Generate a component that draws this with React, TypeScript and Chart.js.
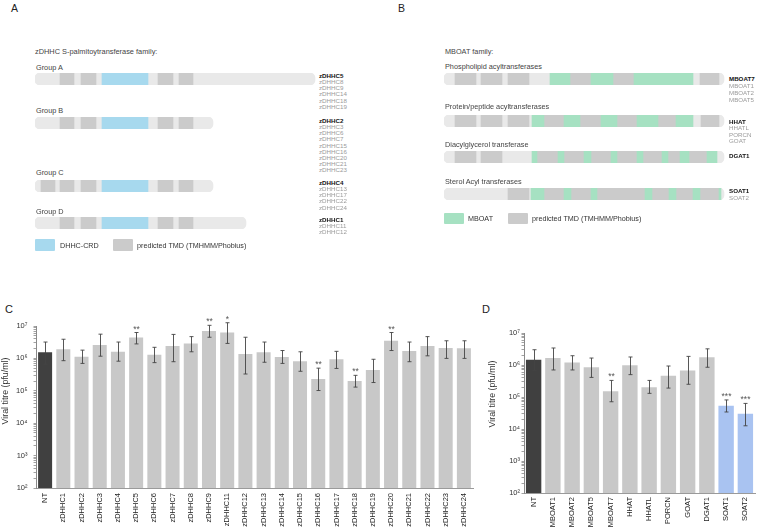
import React, { useEffect, useRef } from 'react';
import { Chart, registerables } from 'chart.js';

Chart.register(...registerables);

const FONT = '"Liberation Sans", Arial, Helvetica, sans-serif';
Chart.defaults.font.family = FONT;

// ---------- Panel C data ----------
const zdhhcCategories = ['NT', 'zDHHC1', 'zDHHC2', 'zDHHC3', 'zDHHC4', 'zDHHC5', 'zDHHC6', 'zDHHC7', 'zDHHC8', 'zDHHC9', 'zDHHC11', 'zDHHC12', 'zDHHC13', 'zDHHC14', 'zDHHC15', 'zDHHC16', 'zDHHC17', 'zDHHC18', 'zDHHC19', 'zDHHC20', 'zDHHC21', 'zDHHC22', 'zDHHC23', 'zDHHC24'];
const zdhhcTitre = [1.55e6, 1.9e6, 1.12e6, 2.6e6, 1.6e6, 4.4e6, 1.3e6, 2.4e6, 2.9e6, 7.0e6, 6.3e6, 1.37e6, 1.55e6, 1.1e6, 8.2e5, 2.3e5, 9.4e5, 2.0e5, 4.4e5, 3.5e6, 1.7e6, 2.4e6, 2.1e6, 2.05e6];
const zdhhcErrHigh = [3.2e6, 3.9e6, 1.8e6, 5.6e6, 3.2e6, 6.3e6, 2.2e6, 5.5e6, 4.7e6, 1.05e7, 1.26e7, 4.5e6, 3.2e6, 1.75e6, 1.6e6, 5.0e5, 1.65e6, 3.0e5, 9.4e5, 6.3e6, 3.2e6, 4.7e6, 3.5e6, 3.5e6];
const zdhhcErrLow = [6.6e5, 8.5e5, 7.0e5, 1.17e6, 8.2e5, 2.8e6, 7.4e5, 7.9e5, 1.6e6, 4.5e6, 2.9e6, 3.3e5, 7.6e5, 7.0e5, 4.0e5, 1.02e5, 4.9e5, 1.3e5, 1.8e5, 1.75e6, 7.9e5, 1.2e6, 1.0e6, 1.0e6];
const zdhhcSignif = ['', '', '', '', '', '**', '', '', '', '**', '*', '', '', '', '', '**', '', '**', '', '**', '', '', '', ''];

// ---------- Panel D data ----------
const mboatCategories = ['NT', 'MBOAT1', 'MBOAT2', 'MBOAT5', 'MBOAT7', 'HHAT', 'HHATL', 'PORCN', 'GOAT', 'DGAT1', 'SOAT1', 'SOAT2'];
const mboatTitre = [1.47e6, 1.65e6, 1.2e6, 8.5e5, 1.5e5, 9.8e5, 2.0e5, 4.6e5, 6.7e5, 1.74e6, 5.3e4, 3.0e4];
const mboatErrHigh = [3.0e6, 3.4e6, 1.95e6, 1.65e6, 3.3e5, 1.78e6, 3.3e5, 9.3e5, 1.86e6, 3.2e6, 8.1e4, 6.3e4];
const mboatErrLow = [6.6e5, 7.0e5, 7.0e5, 4.1e5, 7.1e4, 5.0e5, 1.3e5, 1.9e5, 2.5e5, 8.5e5, 3.4e4, 1.26e4];
const mboatSignif = ['', '', '', '', '**', '', '', '', '', '', '***', '***'];

const decadeExponents = [2, 3, 4, 5, 6, 7];
const yAxisTitle = 'Viral titre (pfu/ml)';

// ---------- Panel A data (domain positions, arbitrary residue units) ----------
const zdhhcGroupTitles = ['Group A', 'Group B', 'Group C', 'Group D'];
const zdhhcRowLengths = [280, 178, 178, 211];
const zdhhcTmd = [
  [[25, 39], [46, 61], [123, 138], [144, 158]],
  [[25, 39], [46, 61], [123, 138], [144, 158]],
  [[6, 20], [25, 39], [46, 61], [123, 138], [144, 158]],
  [[25, 39], [46, 61], [123, 138], [144, 158]],
];
const zdhhcCrd = [[[67, 113]], [[67, 113]], [[67, 113]], [[67, 113]]];
const zdhhcMembers = [
  ['zDHHC5', 'zDHHC8', 'zDHHC9', 'zDHHC14', 'zDHHC18', 'zDHHC19'],
  ['zDHHC2', 'zDHHC3', 'zDHHC6', 'zDHHC7', 'zDHHC15', 'zDHHC16', 'zDHHC20', 'zDHHC21', 'zDHHC23'],
  ['zDHHC4', 'zDHHC13', 'zDHHC17', 'zDHHC22', 'zDHHC24'],
  ['zDHHC1', 'zDHHC11', 'zDHHC12'],
];

// ---------- Panel B data ----------
const mboatGroupTitles = ['Phospholipid acyltransferases', 'Protein/peptide acyltransferases', 'Diacylglycerol transferase', 'Sterol Acyl transferases'];
const mboatRowLengths = [280, 280, 280, 280];
const mboatTmd = [
  [[11, 32], [37, 58], [64, 85], [126, 147], [169, 190], [256, 275]],
  [[11, 32], [37, 58], [64, 85], [100, 120], [136, 157], [173, 193], [214, 232], [257, 275]],
  [[11, 32], [37, 58], [93, 114], [120, 140], [147, 167], [173, 193], [199, 218], [224, 236], [245, 263]],
  [[64, 85], [100, 120], [127, 147], [153, 201], [208, 225], [232, 249], [256, 275]],
];
const mboatDomain = [
  [[106, 126], [147, 169], [190, 249]],
  [[88, 100], [120, 136], [157, 173], [193, 214], [232, 249]],
  [[88, 93], [114, 120], [140, 147], [167, 173], [193, 199], [218, 224], [236, 245], [263, 273]],
  [[87, 100], [120, 127], [147, 153], [201, 208], [225, 232], [249, 256], [275, 277]],
];
const mboatMembers = [
  ['MBOAT7', 'MBOAT1', 'MBOAT2', 'MBOAT5'],
  ['HHAT', 'HHATL', 'PORCN', 'GOAT'],
  ['DGAT1'],
  ['SOAT1', 'SOAT2'],
];

const BG = '#e9e9e9';
const TMD = '#cbcbcb';
const CRD = '#a7d9ee';
const MBOAT = '#a6e1c2';
const DARK = '#404040';
const LIGHT = '#c8c8c8';
const BLUE = '#a9c3f1';

const SUP: Record<number, string> = { 2: '\u00B2', 3: '\u00B3', 4: '\u2074', 5: '\u2075', 6: '\u2076', 7: '\u2077' };

function DomainRow(props: { left: number; top: number; width: number; height: number; length: number; tmd: number[][]; domain: number[][]; domainColor: string }) {
  const ref = useRef<HTMLCanvasElement>(null);
  const { left, top, width, height, length, tmd, domain, domainColor } = props;
  useEffect(() => {
    const datasets: any[] = [];
    domain.forEach((s) => datasets.push({ data: [s], backgroundColor: domainColor, order: 0 }));
    tmd.forEach((s) => datasets.push({ data: [s], backgroundColor: TMD, order: 0 }));
    datasets.push({ data: [[0, length]], backgroundColor: BG, borderRadius: 5, borderSkipped: false, order: 1 });
    const chart = new Chart(ref.current as HTMLCanvasElement, {
      type: 'bar',
      data: { labels: [''], datasets },
      options: {
        indexAxis: 'y',
        animation: false,
        responsive: false,
        events: [],
        layout: { padding: 0 },
        plugins: { legend: { display: false }, tooltip: { enabled: false } },
        datasets: { bar: { grouped: false, barPercentage: 1, categoryPercentage: 1 } } as any,
        scales: {
          x: { type: 'linear', min: 0, max: width, display: false },
          y: { display: false },
        },
      },
    });
    return () => chart.destroy();
  }, []);
  return <canvas ref={ref} width={width} height={height} style={{ position: 'absolute', left, top, width, height }} />;
}

function TitreChart(props: {
  left: number; top: number; width: number; height: number;
  categories: string[]; values: number[]; low: number[]; high: number[]; signif: string[];
  pad: { top: number; right: number; left: number; bottom: number };
  yWidth: number; xHeight: number; yTickPad: number; xTickPad: number; barPct: number;
  titleX: number; titleY: number;
}) {
  const ref = useRef<HTMLCanvasElement>(null);
  const p = props;
  useEffect(() => {
    const colors = p.categories.map((c) => (c === 'NT' ? DARK : c.startsWith('SOAT') ? BLUE : LIGHT));
    const tickValues: number[] = [];
    decadeExponents.forEach((e) => {
      for (let s = 1; s <= 9; s++) {
        const v = s * Math.pow(10, e);
        if (v <= Math.pow(10, decadeExponents[decadeExponents.length - 1])) tickValues.push(v);
      }
    });
    const errPlugin = {
      id: 'errBars',
      afterDatasetsDraw(chart: any) {
        const ctx = chart.ctx;
        const meta = chart.getDatasetMeta(0);
        const ys = chart.scales.y;
        ctx.save();
        ctx.strokeStyle = '#444';
        ctx.lineWidth = 0.9;
        meta.data.forEach((bar: any, i: number) => {
          const x = Math.round(bar.x) + 0.5;
          const yh = ys.getPixelForValue(p.high[i]);
          const yl = ys.getPixelForValue(p.low[i]);
          ctx.beginPath();
          ctx.moveTo(x, yh); ctx.lineTo(x, yl);
          ctx.moveTo(x - 2, yh); ctx.lineTo(x + 2, yh);
          ctx.moveTo(x - 2, yl); ctx.lineTo(x + 2, yl);
          ctx.stroke();
          if (p.signif[i]) {
            ctx.fillStyle = '#555';
            ctx.font = `8.5px ${FONT}`;
            ctx.textAlign = 'center';
            ctx.textBaseline = 'alphabetic';
            ctx.fillText(p.signif[i], x, yh - 1);
          }
        });
        // axis title
        ctx.translate(p.titleX, p.titleY);
        ctx.rotate(-Math.PI / 2);
        ctx.fillStyle = '#333';
        ctx.font = `8.8px ${FONT}`;
        ctx.textAlign = 'center';
        ctx.textBaseline = 'middle';
        ctx.fillText(yAxisTitle, 0, 0);
        ctx.restore();
      },
    };
    const chart = new Chart(ref.current as HTMLCanvasElement, {
      type: 'bar',
      data: {
        labels: p.categories,
        datasets: [{ data: p.values, backgroundColor: colors, barPercentage: p.barPct, categoryPercentage: 1, borderWidth: 0 }],
      },
      options: {
        animation: false,
        responsive: false,
        events: [],
        layout: { padding: p.pad },
        plugins: { legend: { display: false }, tooltip: { enabled: false } },
        scales: {
          x: {
            type: 'category',
            grid: { display: false, drawTicks: false },
            border: { display: true, color: '#9a9a9a', width: 1 },
            ticks: { autoSkip: false, minRotation: 90, maxRotation: 90, padding: p.xTickPad, color: '#222', font: { size: 7.5 } },
            afterFit: (scale: any) => { scale.height = p.xHeight; },
          },
          y: {
            type: 'logarithmic',
            min: 100,
            max: 1e7,
            afterBuildTicks: (scale: any) => { scale.ticks = tickValues.map((v) => ({ value: v })); },
            afterFit: (scale: any) => { scale.width = p.yWidth; },
            grid: { display: true, drawOnChartArea: false, drawTicks: true, tickLength: 2.5, color: '#8a8a8a', lineWidth: 0.8 },
            border: { display: true, color: '#8a8a8a', width: 1 },
            ticks: {
              autoSkip: false,
              padding: p.yTickPad,
              color: '#333',
              font: { size: 7.5 },
              callback: (v: any) => {
                const e = Math.log10(Number(v));
                const r = Math.round(e);
                return Math.abs(e - r) < 1e-9 ? '10' + SUP[r] : '';
              },
            },
          },
        },
      },
      plugins: [errPlugin],
    });
    return () => chart.destroy();
  }, []);
  return <canvas ref={ref} width={p.width} height={p.height} style={{ position: 'absolute', left: p.left, top: p.top, width: p.width, height: p.height }} />;
}

function Label(props: { x: number; cy: number; size: number; color?: string; bold?: boolean; children: React.ReactNode }) {
  return (
    <div style={{
      position: 'absolute', left: props.x, top: props.cy - 0.49 * props.size, fontSize: props.size,
      lineHeight: 1, whiteSpace: 'nowrap', color: props.color || '#333', fontWeight: props.bold ? 700 : 400,
    }}>{props.children}</div>
  );
}

function Swatch(props: { x: number; y: number; w: number; h: number; color: string }) {
  return <div style={{ position: 'absolute', left: props.x, top: props.y, width: props.w, height: props.h, background: props.color, borderRadius: 1 }} />;
}

const aRowTops = [73, 117, 180, 217];
const aTitleCy = [68, 111, 173, 212];
const aListCy = [76, 121, 183, 220];
const bRowTops = [73, 115, 151, 188];
const bTitleCy = [67, 107, 145, 182];
const bListCy = [79, 122, 156, 191];
const bListStep = [7, 6.5, 7, 7];

export default function App() {
  return (
    <div style={{ position: 'absolute', left: 0, top: 0, width: 763, height: 532, background: '#fff', overflow: 'hidden', fontFamily: FONT }}>
      <Label x={11} cy={8} size={10.5} color="#222">A</Label>
      <Label x={398} cy={8} size={10.5} color="#222">B</Label>
      <Label x={5} cy={309} size={11} color="#222">C</Label>
      <Label x={482} cy={309} size={11} color="#222">D</Label>

      {/* Panel A */}
      <Label x={35} cy={52} size={7.4} color="#444">zDHHC S-palmitoytransferase family:</Label>
      {zdhhcGroupTitles.map((t, i) => (
        <React.Fragment key={t}>
          <Label x={36} cy={aTitleCy[i]} size={7.3} color="#444">{t}</Label>
          <DomainRow left={35} top={aRowTops[i]} width={281} height={12} length={zdhhcRowLengths[i]} tmd={zdhhcTmd[i]} domain={zdhhcCrd[i]} domainColor={CRD} />
          {zdhhcMembers[i].map((m, j) => (
            <Label key={m} x={319} cy={aListCy[i] + j * 6.15} size={6.2} bold={j === 0} color={j === 0 ? '#111' : '#9a9a9a'}>{m}</Label>
          ))}
        </React.Fragment>
      ))}
      <Swatch x={35} y={239} w={20} h={12} color={CRD} />
      <Label x={60} cy={246} size={7.2} color="#333">DHHC-CRD</Label>
      <Swatch x={113} y={239} w={20} h={12} color={TMD} />
      <Label x={137} cy={246} size={7.2} color="#333">predicted TMD (TMHMM/Phobius)</Label>

      {/* Panel B */}
      <Label x={445} cy={52} size={7.3} color="#444">MBOAT family:</Label>
      {mboatGroupTitles.map((t, i) => (
        <React.Fragment key={t}>
          <Label x={445} cy={bTitleCy[i]} size={7.3} color="#444">{t}</Label>
          <DomainRow left={444} top={bRowTops[i]} width={281} height={12} length={mboatRowLengths[i]} tmd={mboatTmd[i]} domain={mboatDomain[i]} domainColor={MBOAT} />
          {mboatMembers[i].map((m, j) => (
            <Label key={m} x={729} cy={bListCy[i] + j * bListStep[i]} size={6.2} bold={j === 0} color={j === 0 ? '#111' : '#9a9a9a'}>{m}</Label>
          ))}
        </React.Fragment>
      ))}
      <Swatch x={444} y={213} w={20} h={11} color={MBOAT} />
      <Label x={468} cy={219} size={7.2} color="#333">MBOAT</Label>
      <Swatch x={508} y={213} w={20} h={11} color={TMD} />
      <Label x={532} cy={219} size={7.2} color="#333">predicted TMD (TMHMM/Phobius)</Label>

      {/* Panel C */}
      <TitreChart left={0} top={300} width={480} height={232}
        categories={zdhhcCategories} values={zdhhcTitre} low={zdhhcErrLow} high={zdhhcErrHigh} signif={zdhhcSignif}
        pad={{ top: 26, right: 7, left: 0, bottom: 0 }} yWidth={36} xHeight={44} yTickPad={6} xTickPad={5} barPct={0.77}
        titleX={6} titleY={91} />

      {/* Panel D */}
      <TitreChart left={480} top={300} width={283} height={232}
        categories={mboatCategories} values={mboatTitre} low={mboatErrLow} high={mboatErrHigh} signif={mboatSignif}
        pad={{ top: 33, right: 8, left: 0, bottom: 0 }} yWidth={44} xHeight={39} yTickPad={1.5} xTickPad={4} barPct={0.8}
        titleX={13} titleY={94} />
    </div>
  );
}
